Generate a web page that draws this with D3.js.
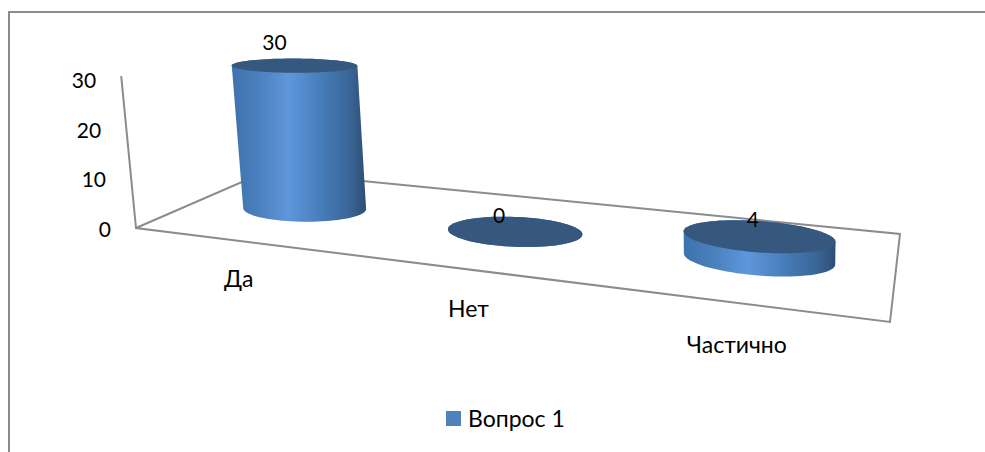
<!DOCTYPE html>
<html><head><meta charset="utf-8">
<script src="https://cdn.jsdelivr.net/npm/d3@7"></script>
<style>html,body{margin:0;padding:0;background:#fff}svg{display:block}text{font-family:Lato,"Open Sans",sans-serif;fill:#000}</style>
</head><body><svg id="c" width="985" height="452"></svg>
<script>
const categories = ["Да", "Нет", "Частично"];
const values = [30, 0, 4];
const yTicks = [0, 10, 20, 30];
const seriesName = "Вопрос 1";

const svg = d3.select("#c");
const W = 985, H = 452, fs = 21, fsText = 23;
const axisColor = "#8c8c8c";

// floor plane of the 3D box: unit square (u along categories, v depth) -> screen, by homography
const FL=[136,228], FR=[890,322], BR=[900,234], BL=[266,171.5];
function homography(p0,p1,p2,p3){
  const dx1=p1[0]-p2[0],dx2=p3[0]-p2[0],sx=p0[0]-p1[0]+p2[0]-p3[0];
  const dy1=p1[1]-p2[1],dy2=p3[1]-p2[1],sy=p0[1]-p1[1]+p2[1]-p3[1];
  const det=dx1*dy2-dx2*dy1;
  const g=(sx*dy2-dx2*sy)/det,h=(dx1*sy-sx*dy1)/det;
  const a=p1[0]-p0[0]+g*p1[0],b=p3[0]-p0[0]+h*p3[0],c=p0[0];
  const d=p1[1]-p0[1]+g*p1[1],e=p3[1]-p0[1]+h*p3[1],f=p0[1];
  return (u,v)=>{const w=g*u+h*v+1;return [(a*u+b*v+c)/w,(d*u+e*v+f)/w];};
}
const floor = homography(FL,FR,BR,BL);
const uScale = d3.scaleBand().domain(categories).range([0.006,1]);
const perUnit = d3.scaleLinear().domain([209,260]).range([4.77,5.55]);
const valueScale = d3.scaleLinear().domain([0,30]).range([0,30]);
function lift(p,val){
  const k=perUnit(p[1])*valueScale(val);
  const lean=(p[0]-750)/6300;
  return [p[0]+lean*k,p[1]-k];
}
const center = c => uScale(c)+uScale.bandwidth()/2;

// frame
svg.append("path").attr("d",d3.line()([[9,H],[9,12],[W,12]])).attr("fill","none").attr("stroke",axisColor).attr("stroke-width",2);
// floor and wall lines
const line=d3.line();
svg.append("path").attr("d",line([lift(FL,30),FL,FR,BR,BL,FL])).attr("fill","none").attr("stroke",axisColor).attr("stroke-width",2);

// gradient
const defs=svg.append("defs");
const g=defs.append("linearGradient").attr("id","side").attr("x1",0).attr("x2",1).attr("y1",0).attr("y2",0);
[[0,"#3d72ae"],[.2,"#4a80bc"],[.42,"#5f97dd"],[.68,"#457bb6"],[.88,"#3a6596"],[1,"#2d4e75"]].forEach(s=>g.append("stop").attr("offset",s[0]).attr("stop-color",s[1]));

const ru=0.094, rv=0.2, sv=0.012;
const angles=d3.range(0,360,4).map(a=>a*Math.PI/180);
categories.forEach((c,i)=>{
  const u=center(c);
  const base=angles.map(a=>floor(u+ru*Math.cos(a),0.5+rv*Math.sin(a)+sv*Math.cos(a)));
  const top=base.map(p=>lift(p,values[i]));
  svg.append("path").attr("d",line(d3.polygonHull(base.concat(top)))+"Z").attr("fill","url(#side)");
  svg.append("path").attr("d",line(top)+"Z").attr("fill","#36587f");
});

// value labels
const dlx=d3.scaleLinear().domain([0,1,2]).range([-20,-15.5,-5.5]);
const dly=d3.scaleLinear().domain([0,1,2]).range([-15,-8,-9]);
categories.forEach((c,i)=>{
  const p=lift(floor(center(c),0.5),values[i]);
  svg.append("text").attr("x",p[0]+dlx(i)).attr("y",p[1]+dly(i)).attr("text-anchor","middle").attr("font-size",fs).text(values[i]);
});
// y ticks
yTicks.forEach(t=>{
  const p=lift(FL,t);
  svg.append("text").attr("x",p[0]-25).attr("y",p[1]+9+t*0.1).attr("text-anchor","end").attr("font-size",fs).text(t);
});
// category labels
categories.forEach((c,i)=>{
  const p=floor(center(c),0);
  svg.append("text").attr("x",p[0]-2*(i===0)).attr("y",p[1]+46+(p[1]-242)*0.067).attr("text-anchor","middle").attr("font-size",fsText).text(c);
});
// legend
svg.append("rect").attr("x",446).attr("y",411).attr("width",15).attr("height",15).attr("fill","#4f81bd");
svg.append("text").attr("x",468).attr("y",427).attr("font-size",fsText).text(seriesName);
</script></body></html>
